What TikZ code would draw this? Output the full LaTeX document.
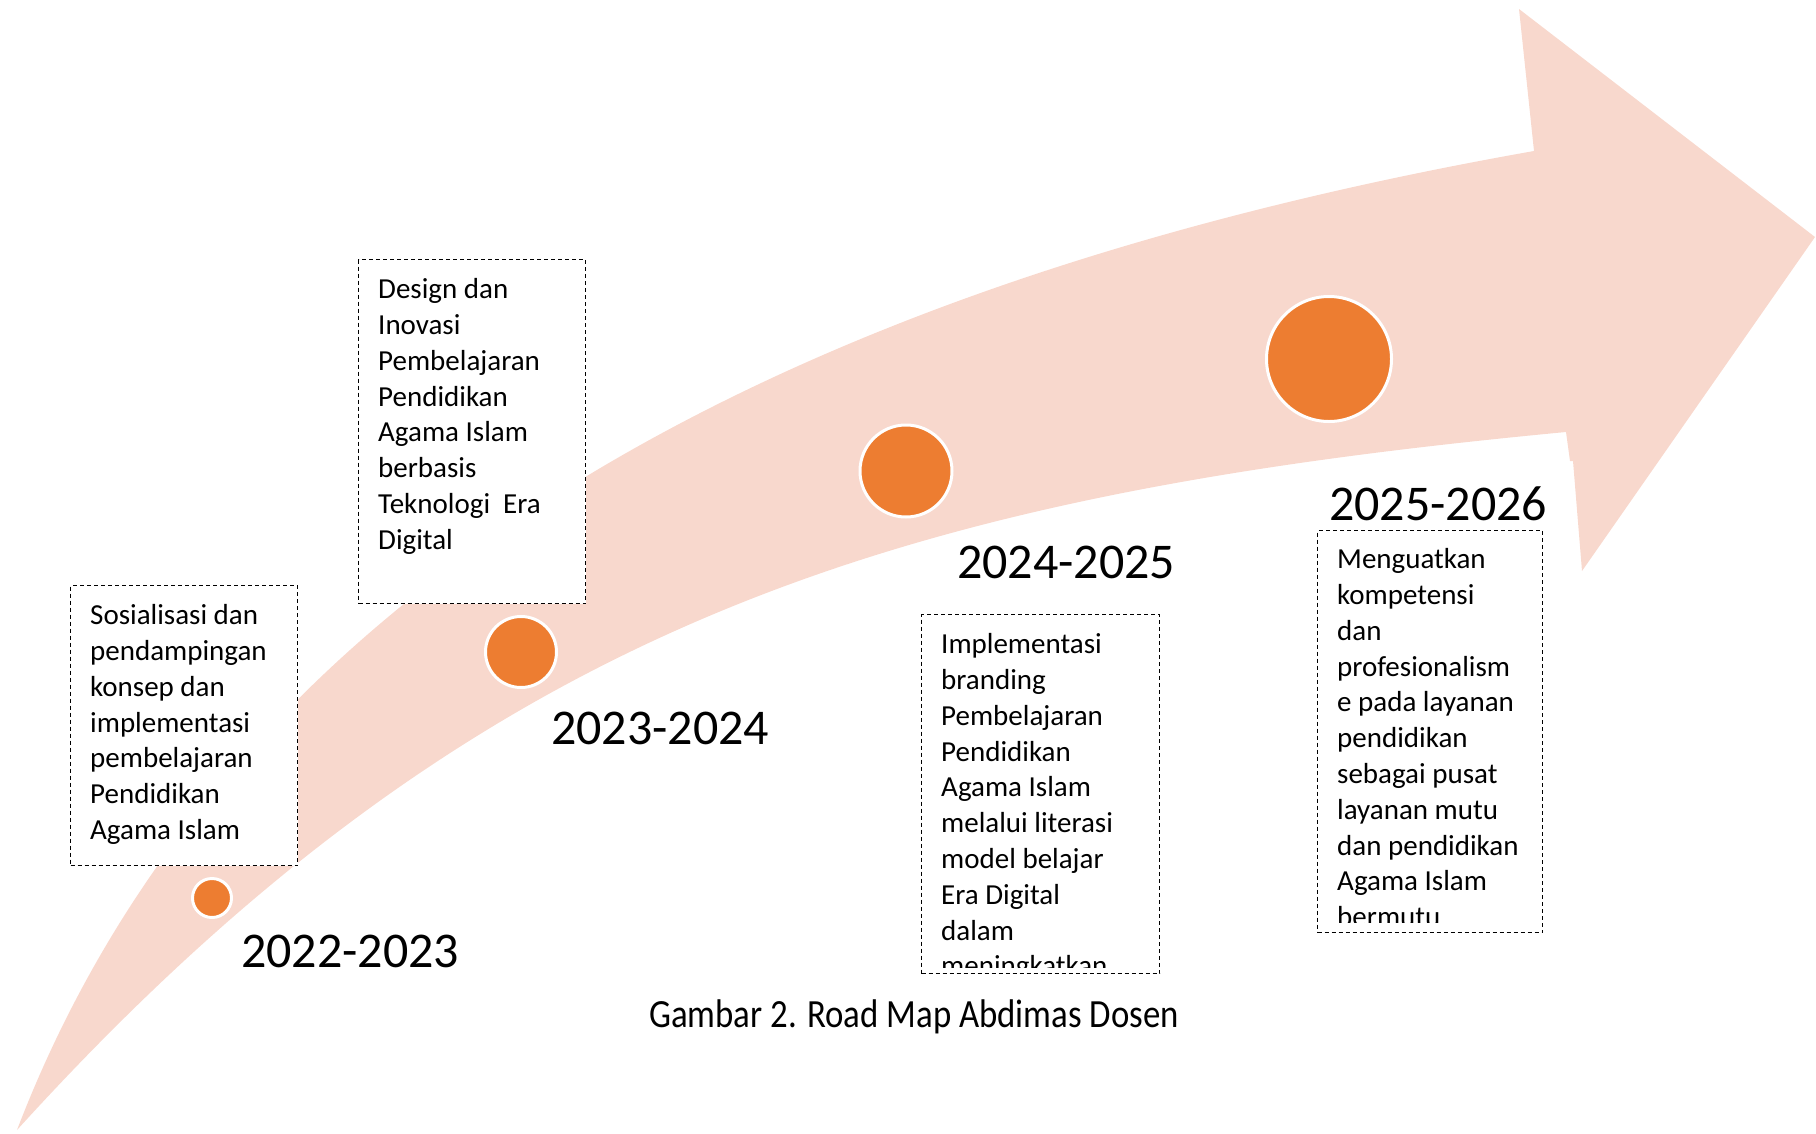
\documentclass[tikz,border=0pt]{standalone}
\usepackage{fontspec}
\setmainfont{Carlito}
\newfontfamily\capfont[FakeStretch=0.87]{Carlito}
\usetikzlibrary{positioning}
\definecolor{roadpink}{RGB}{248,216,205}
\definecolor{roadorange}{RGB}{237,125,49}

\begin{document}
\begin{tikzpicture}[x=1pt, y=-1pt,
    note/.style={draw, dash pattern=on 4pt off 3pt, line width=1.2pt, fill=white, anchor=north west, inner sep=0pt},
    notetext/.style={anchor=north west, inner sep=0pt, align=left, font=\fontsize{29}{35.8}\selectfont},
    dot/.style={circle, fill=roadorange, draw=white, line width=3pt, inner sep=0pt},
    year/.style={anchor=base west, inner sep=0pt, font=\fontsize{50}{60}\selectfont}]
    \useasboundingbox (0,0) rectangle (1816,1133);
    \fill[roadpink] (17,1130) .. controls (212,621) and (718,295) .. (1534,151)
        -- (1519,9) -- (1815,237) -- (1582,571) -- (1573,461) -- (1570,461) -- (1566,432)
        .. controls (900,495) and (480,620) .. (17,1130) -- cycle;

    \node[note, minimum width=227pt, minimum height=280pt] (boxA) at (70,585) {};
    \node[notetext] (textA) at ([shift={(20,14.5)}]boxA.north west) {\strut Sosialisasi dan\\
        pendampingan\\ konsep dan\\ implementasi\\ pembelajaran\\ Pendidikan\\ Agama Islam};

    \node[note, minimum width=227pt, minimum height=344pt] (boxB) at (358,259) {};
    \node[notetext] (textB) at ([shift={(20,14.5)}]boxB.north west) {\strut Design dan\\
        Inovasi\\ Pembelajaran\\ Pendidikan\\ Agama Islam\\ berbasis\\ Teknologi\ \ Era\\ Digital};

    \node[note, minimum width=238pt, minimum height=359pt] (boxC) at (921,614) {};
    \begin{scope}
        \clip (boxC.north west) rectangle ([yshift=7pt]boxC.south east);
        \node[notetext] (textC) at ([shift={(20,14.5)}]boxC.north west) {\strut Implementasi\\
            branding\\ Pembelajaran\\ Pendidikan\\ Agama Islam\\ melalui literasi\\
            model belajar\\ Era Digital\\ dalam\\ meningkatkan};
    \end{scope}

    \node[note, minimum width=225pt, minimum height=402pt] (boxD) at (1317,530) {};
    \begin{scope}
        \clip (boxD.north west) rectangle ([yshift=11pt]boxD.south east);
        \node[notetext] (textD) at ([shift={(20,13.5)}]boxD.north west) {\strut Menguatkan\\
            kompetensi\\ dan\\ profesionalism\\ e pada layanan\\ pendidikan\\ sebagai pusat\\
            layanan mutu\\ dan pendidikan\\ Agama Islam\\ bermutu};
    \end{scope}

    \node[dot, minimum size=39pt] (dotA) at (212,898) {};
    \node[dot, minimum size=71pt] (dotB) at (521,652) {};
    \node[dot, minimum size=92pt] (dotC) at (906,471) {};
    \node[dot, minimum size=125pt] (dotD) at (1329,359) {};

    \node[year] (yearA) at (241,967) {2022-2023};
    \node[year] (yearB) at (551,744) {2023-2024};
    \node[year] (yearC) at (957,578) {2024-2025};
    \node[year] (yearD) at (1329,520) {2025-2026};

    \node[anchor=base, inner sep=0pt, font=\capfont\fontsize{40}{48}\selectfont] (caption) at (914,1027) {Gambar 2. Road Map Abdimas Dosen};
\end{tikzpicture}
\end{document}
